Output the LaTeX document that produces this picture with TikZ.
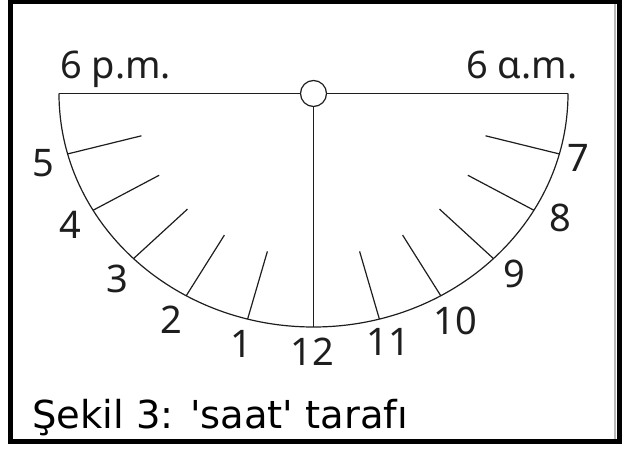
\documentclass[tikz,border=0pt]{standalone}
\usepackage{fontspec}
\setmainfont{Noto Sans}
\newfontfamily\capfont{DejaVu Sans}
\definecolor{ink}{HTML}{1E1E1E}
\begin{document}
\begin{tikzpicture}[x=1pt,y=1pt,
  frame/.style={line width=5pt,draw=black},
  dialline/.style={line width=1.2pt,draw=ink},
  hourtick/.style={line width=1.2pt,draw=ink},
  hourlabel/.style={text=ink,inner sep=0pt,font=\fontsize{38}{38}\selectfont},
  toplabel/.style={text=ink,inner sep=0pt,font=\fontsize{38}{38}\selectfont},
  caption/.style={text=black,inner sep=0pt,font=\capfont\fontsize{38.5}{38.5}\selectfont}]
\useasboundingbox (-313.5,93.5) rectangle (318.5,-355.5);
\fill[white] (-313.5,93.5) rectangle (318.5,-355.5);
% frame
\draw[frame] (-303,91.5) rectangle (306,-348);
\draw[gray!55,line width=1.5pt] (301.5,89) -- (301.5,-345.5);
% dial
\coordinate (L) at (-254.5,0);
\coordinate (R) at (254.5,0);
\coordinate (B) at (0,-233.5);
\draw[dialline] (L) -- (R);
\draw[dialline] (L) arc[start angle=180,end angle=360,x radius=254.5pt,y radius=233.5pt];
\node[circle,draw=ink,line width=1.2pt,fill=white,minimum size=26pt,inner sep=0pt] (pin) at (0,0) {};
\draw[dialline] (pin.south) -- (B);
% ticks
\foreach \t in {195,210,225,240,255,285,300,315,330,345}{
  \coordinate (o\t) at ({254.5*cos(\t)},{233.5*sin(\t)});
  \coordinate (i\t) at ({0.7*254.5*cos(\t)},{0.7*233.5*sin(\t)});
  \draw[hourtick] (i\t) -- (o\t);
}
% hour labels
\node[hourlabel] (h5) at (-270,-69.5) {5};
\node[hourlabel] (h4) at (-243.5,-131.5) {4};
\node[hourlabel] (h3) at (-196.5,-185.5) {3};
\node[hourlabel] (h2) at (-142,-226) {2};
\node[hourlabel] (h1) at (-72,-250) {1};
\node[hourlabel] (h12) at (-1,-258) {12};
\node[hourlabel] (h11) at (75,-248) {11};
\node[hourlabel] (h10) at (142,-227) {10};
\node[hourlabel] (h9) at (201,-180) {9};
\node[hourlabel] (h8) at (246.5,-124) {8};
\node[hourlabel] (h7) at (264.5,-64.5) {7};
% top labels
\node[toplabel,anchor=base west] (pm) at (-253.5,15) {6 p.m.};
\node[toplabel,anchor=base east] (am) at (264,15) {6 ɑ.m.};
% caption
\node[caption,anchor=base west] (cap) at (-281.5,-334.5) {Şekil 3: \char"0027saat\char"0027{} tarafı};
\end{tikzpicture}
\end{document}
